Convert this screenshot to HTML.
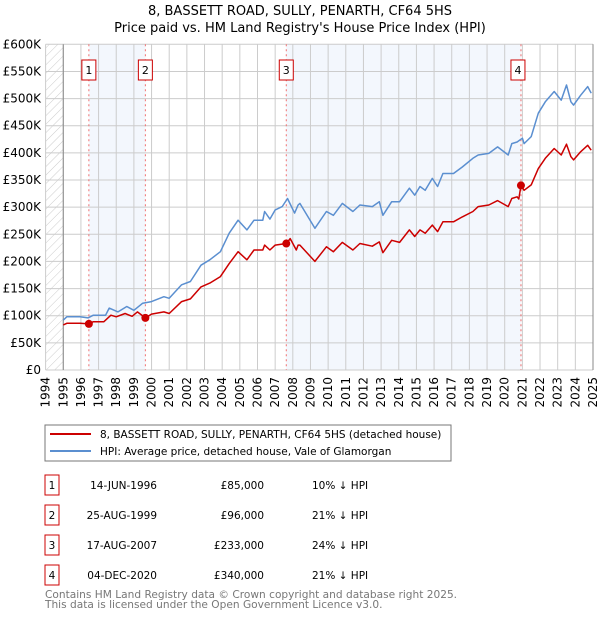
<!DOCTYPE html>
<html><head><meta charset="utf-8"><style>
body{margin:0;background:#fff;}
svg{display:block;font-family:"DejaVu Sans","Liberation Sans",sans-serif;}
</style></head><body>
<svg id="c" width="600" height="620" viewBox="0 0 600 620">
<defs><pattern id="hatch" width="6" height="6" patternUnits="userSpaceOnUse" patternTransform="rotate(45)"><line x1="0" y1="0" x2="0" y2="6" stroke="#ccc" stroke-width="1"/></pattern></defs>
<text x="300" y="15" text-anchor="middle" font-size="13">8, BASSETT ROAD, SULLY, PENARTH, CF64 5HS</text>
<text x="300" y="32" text-anchor="middle" font-size="13">Price paid vs. HM Land Registry's House Price Index (HPI)</text>
<g id="plot"></g>
<rect x="45" y="425" width="406" height="36" fill="#fff" stroke="#777"/>
<line x1="50" y1="434" x2="91" y2="434" stroke="#cc0000" stroke-width="2"/>
<text x="100" y="438" font-size="10.5">8, BASSETT ROAD, SULLY, PENARTH, CF64 5HS (detached house)</text>
<line x1="50" y1="451" x2="91" y2="451" stroke="#5b8fd0" stroke-width="2"/>
<text x="100" y="455" font-size="10.5">HPI: Average price, detached house, Vale of Glamorgan</text>
<g id="table"></g>
<text x="45" y="598" font-size="10.6" fill="#777">Contains HM Land Registry data © Crown copyright and database right 2025.</text>
<text x="45" y="608" font-size="10.6" fill="#777">This data is licensed under the Open Government Licence v3.0.</text>
</svg>
<script>
const NS="http://www.w3.org/2000/svg";
const yTicks=[0,50000,100000,150000,200000,250000,300000,350000,400000,450000,500000,550000,600000];
const yTickLabels=["£0","£50K","£100K","£150K","£200K","£250K","£300K","£350K","£400K","£450K","£500K","£550K","£600K"];
const xYears=[1994,1995,1996,1997,1998,1999,2000,2001,2002,2003,2004,2005,2006,2007,2008,2009,2010,2011,2012,2013,2014,2015,2016,2017,2018,2019,2020,2021,2022,2023,2024,2025];
const hpiDates=[1995.0,1995.2,1995.95,1996.4,1996.7,1997.4,1997.6,1998.1,1998.6,1999.0,1999.5,2000.0,2000.7,2001.0,2001.7,2002.2,2002.8,2003.3,2003.9,2004.4,2004.9,2005.4,2005.8,2006.3,2006.4,2006.7,2007.0,2007.4,2007.7,2008.1,2008.3,2008.4,2009.25,2009.9,2010.3,2010.8,2011.4,2011.8,2012.5,2012.9,2013.1,2013.6,2014.05,2014.6,2014.9,2015.2,2015.5,2015.9,2016.2,2016.5,2017.1,2017.6,2018.2,2018.5,2019.1,2019.6,2020.2,2020.4,2020.7,2021.0,2021.1,2021.5,2021.9,2022.3,2022.8,2023.2,2023.5,2023.75,2023.9,2024.3,2024.7,2024.9];
const hpiValues=[92,98,98,96,101,101,114,107,117,110,123,126,135,132,157,163,193,203,218,252,276,258,276,276,292,278,295,301,316,289,304,307,261,292,285,307,292,304,301,310,285,310,310,335,322,338,331,353,338,362,362,374,390,396,399,411,396,417,420,427,417,430,473,494,513,497,525,494,488,506,522,510];
const priceDates=[1995.0,1995.2,1995.95,1996.45,1996.7,1997.3,1997.7,1998.0,1998.5,1998.9,1999.2,1999.65,2000.0,2000.7,2001.0,2001.7,2002.2,2002.8,2003.3,2003.9,2004.4,2004.9,2005.4,2005.8,2006.3,2006.4,2006.7,2007.0,2007.63,2007.85,2008.2,2008.3,2008.4,2009.25,2009.9,2010.3,2010.8,2011.4,2011.8,2012.5,2012.9,2013.1,2013.6,2014.05,2014.6,2014.9,2015.2,2015.5,2015.9,2016.2,2016.5,2017.1,2017.6,2018.2,2018.5,2019.1,2019.6,2020.2,2020.4,2020.7,2020.8,2020.92,2021.1,2021.5,2021.9,2022.3,2022.8,2023.2,2023.5,2023.75,2023.9,2024.3,2024.7,2024.9];
const priceValues=[83,86,86,85,89,89,101,98,104,99,107,96,103,107,104,126,131,153,160,172,196,218,203,221,221,230,221,230,233,242,221,230,230,200,227,218,235,221,233,228,236,216,239,235,258,246,258,252,267,255,273,273,282,292,301,304,312,301,316,319,315,340,331,341,371,390,408,396,416,393,387,402,414,405];
const saleLabels=["1","2","3","4"];
const saleDates=[1996.45,1999.65,2007.63,2020.92];
const salePrices=[85000,96000,233000,340000];
const saleDateText=["14-JUN-1996","25-AUG-1999","17-AUG-2007","04-DEC-2020"];
const salePriceText=["£85,000","£96,000","£233,000","£340,000"];
const saleHpiText=["10% ↓ HPI","21% ↓ HPI","24% ↓ HPI","21% ↓ HPI"];

const X0=45.6,X1=593,Y0=370,Y1=44.3;
const xs=t=>X0+(t-1994)/31*(X1-X0);
const ys=v=>Y0-v/600000*(Y0-Y1);
const plot=document.getElementById('plot');
function mk(tag,attrs,parent){const e=document.createElementNS(NS,tag);for(const k in attrs)e.setAttribute(k,attrs[k]);(parent||plot).appendChild(e);return e;}

let e=mk('rect',{x:X0,y:Y1,width:xs(1995)-X0,height:Y0-Y1,fill:'url(#hatch)'});


e=mk('rect',{x:xs(saleDates[0]),y:Y1,width:xs(saleDates[1])-xs(saleDates[0]),height:Y0-Y1,fill:'#eef3fc',opacity:0.7});


e=mk('rect',{x:xs(saleDates[2]),y:Y1,width:xs(saleDates[3])-xs(saleDates[2]),height:Y0-Y1,fill:'#eef3fc',opacity:0.7});



yTicks.forEach((v,i)=>{
  const g=mk('line',{x1:X0,x2:X1,y1:ys(v),y2:ys(v),stroke:'#ccc','stroke-width':1});
  
  
  const t=mk('text',{x:41,y:ys(v)+4,'text-anchor':'end','font-size':12});
  t.textContent=yTickLabels[i];
  
  
});
xYears.forEach(yr=>{
  const g=mk('line',{x1:xs(yr),x2:xs(yr),y1:Y1,y2:Y0,stroke:'#ccc','stroke-width':1});
  
  
  const t=mk('text',{x:0,y:0,'text-anchor':'end','font-size':12,transform:`translate(${xs(yr)+4},377) rotate(-90)`});
  t.textContent=yr;
  
  
});
e=mk('line',{x1:xs(1995),x2:xs(1995),y1:Y1,y2:Y0,stroke:'#888'});


e=mk('line',{x1:X1,x2:X1,y1:Y1,y2:Y0,stroke:'#888'});



saleDates.forEach((d,i)=>{
  const l=mk('line',{x1:xs(d),x2:xs(d),y1:Y1,y2:Y0,stroke:'#f07070','stroke-dasharray':'2,3'});
  
  
  const r=mk('rect',{x:xs(d)-(i==2||i==3?10:7)+(i==2?3:0),y:60,width:14,height:20,fill:'#fff',stroke:'#cc0000'});
  
  
  const t=mk('text',{x:+r.getAttribute('x')+7,y:74,'text-anchor':'middle','font-size':11});
  t.textContent=saleLabels[i];
  
  
});

function path(dates,vals){return dates.map((d,i)=>(i?'L':'M')+xs(d).toFixed(1)+','+ys(vals[i]*1000).toFixed(1)).join('');}
e=mk('path',{d:path(hpiDates,hpiValues),fill:'none',stroke:'#5b8fd0','stroke-width':1.5,'stroke-linejoin':'round'});


e=mk('path',{d:path(priceDates,priceValues),fill:'none',stroke:'#cc0000','stroke-width':1.5,'stroke-linejoin':'round'});


saleDates.forEach((d,i)=>{
  const c=mk('circle',{cx:xs(d),cy:ys(salePrices[i]),r:4,fill:'#cc0000'});
  
  
});

const tb=document.getElementById('table');
saleDates.forEach((d,i)=>{
  const y=475+i*30;
  const r=mk('rect',{x:45,y:y,width:14,height:20,fill:'#fff',stroke:'#cc0000'},tb);
  
  
  const cells=[[52,'middle',saleLabels[i],'table-sale-number'],[157,'end',saleDateText[i],'table-sale-date'],[264,'end',salePriceText[i],'table-sale-price'],[312,'start',saleHpiText[i],'table-sale-hpi-diff']];
  cells.forEach(c=>{
    const t=mk('text',{x:c[0],y:y+14,'text-anchor':c[1],'font-size':10.5},tb);
    t.textContent=c[2];
    
    
  });
});
</script>
</body></html>
